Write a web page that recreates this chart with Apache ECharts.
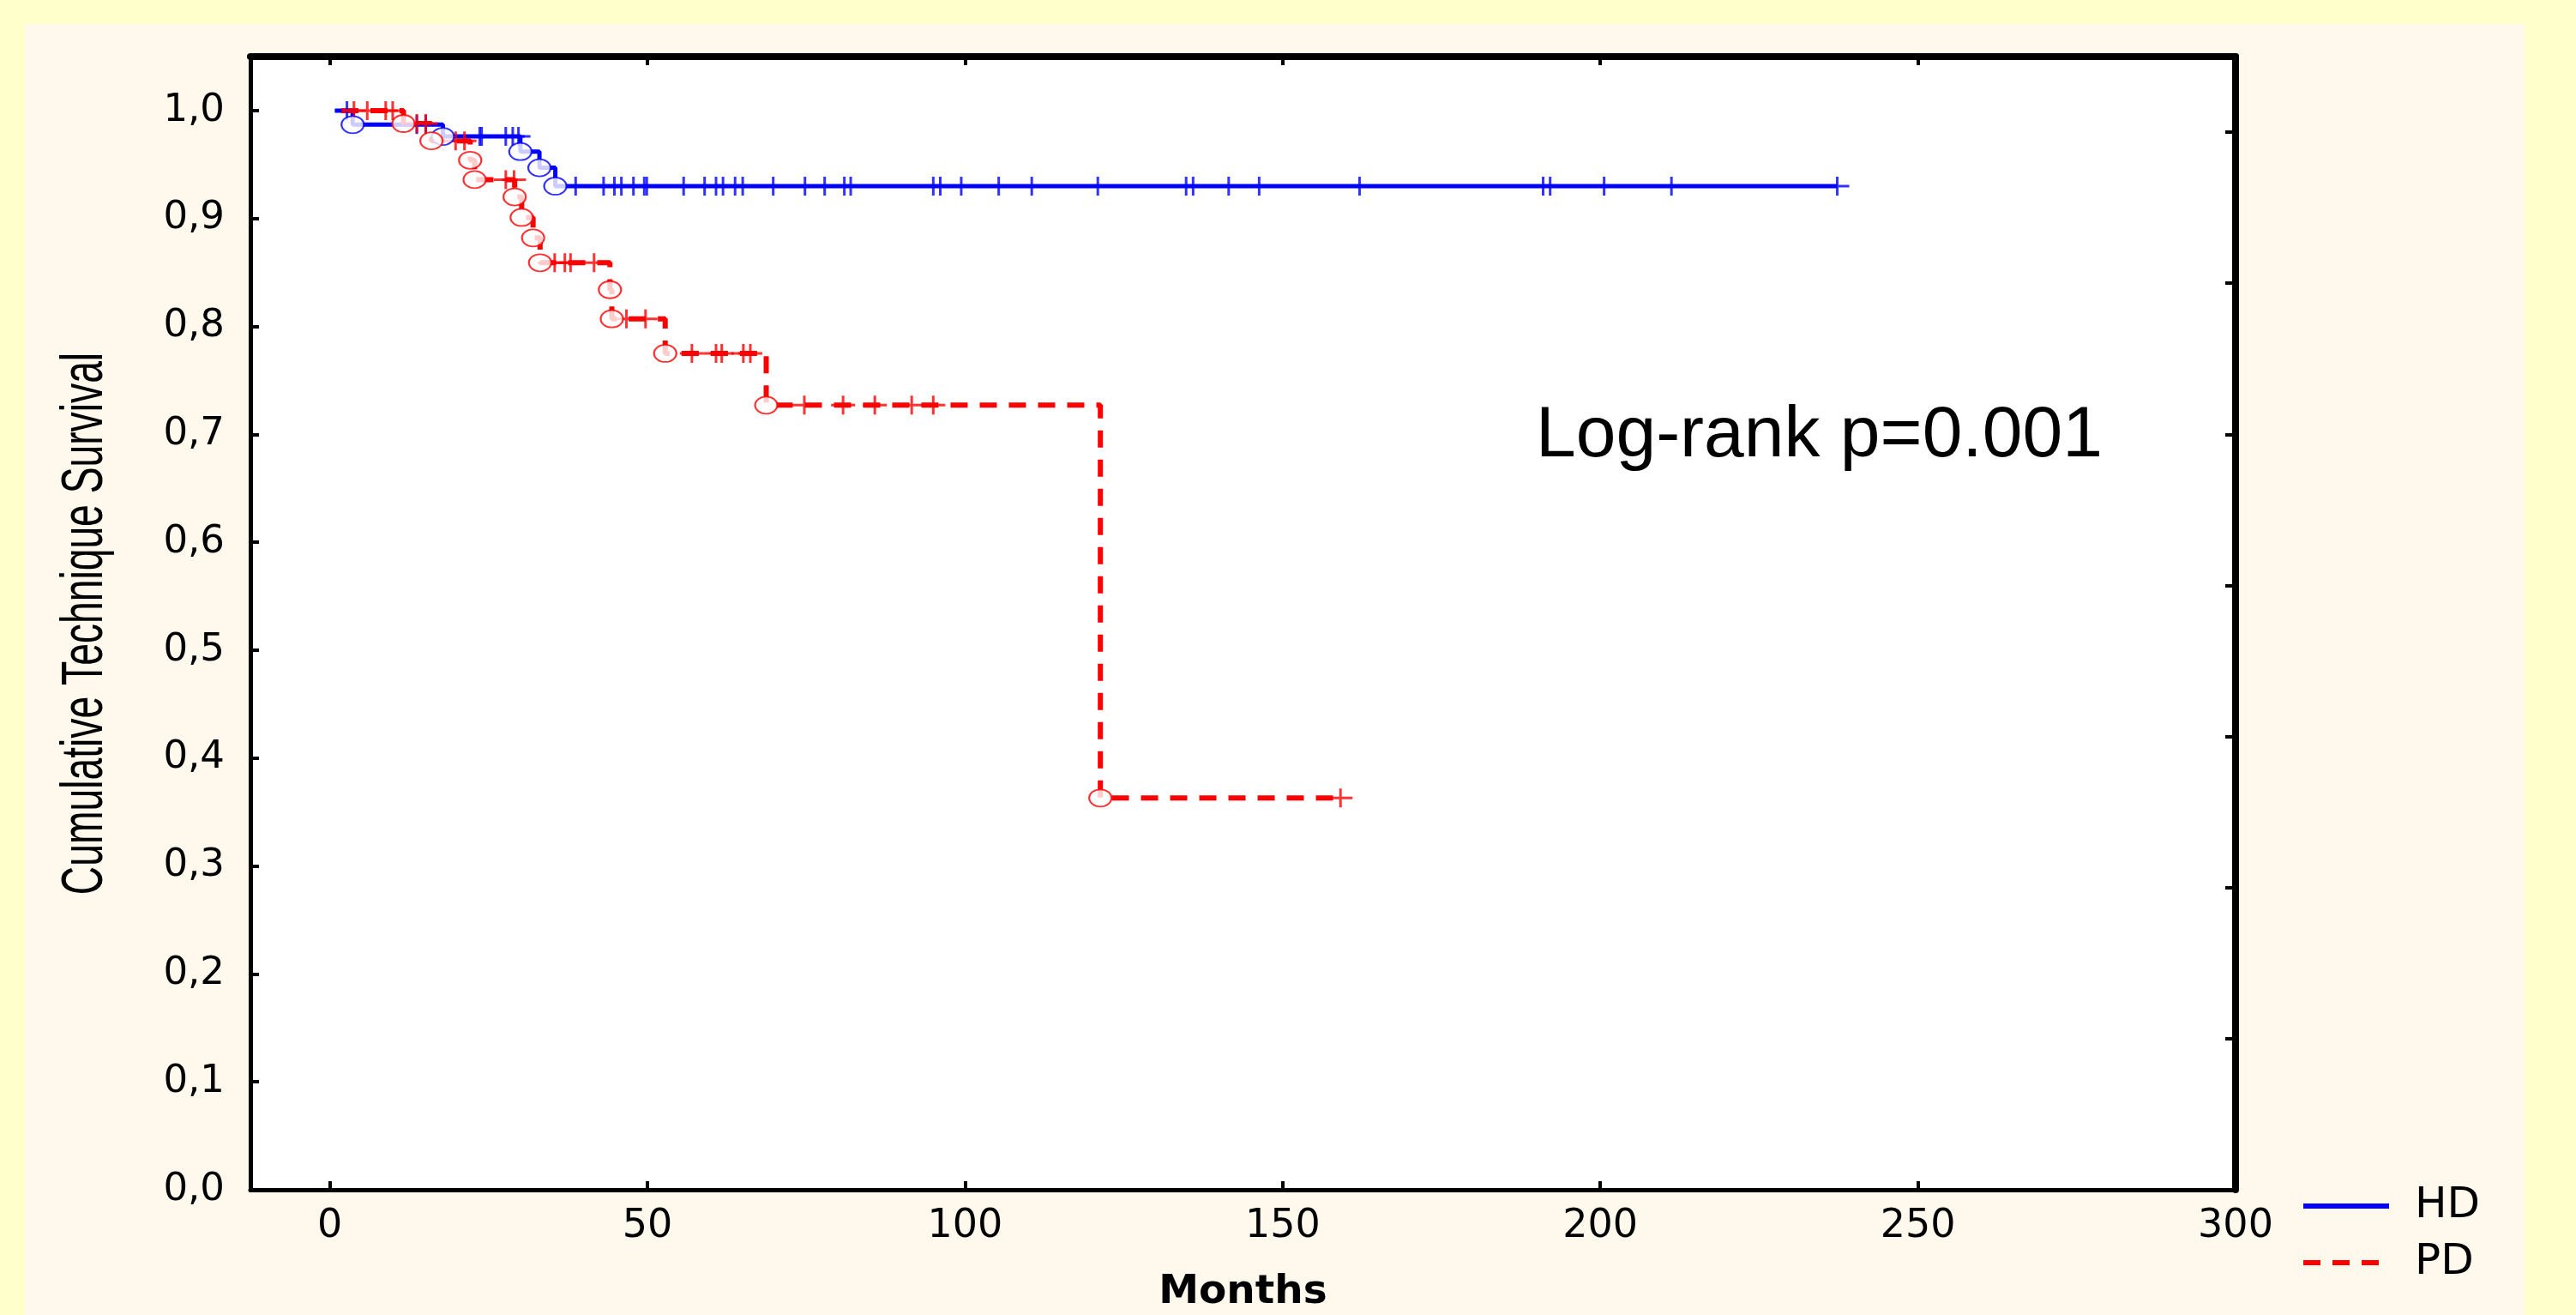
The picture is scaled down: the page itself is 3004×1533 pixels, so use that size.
<!DOCTYPE html>
<html><head><meta charset="utf-8">
<script src="https://cdn.jsdelivr.net/npm/echarts@6/dist/echarts.min.js"></script>
<style>
html,body{margin:0;padding:0;background:#FFFFCC;overflow:hidden;}
#panel{position:absolute;left:29px;top:28px;width:2915px;height:1505px;background:#FEF9EC;}
#chart{position:absolute;left:0;top:0;width:3004px;height:1533px;}
</style></head><body>
<div id="panel"></div><div id="chart"></div>
<script>
// ---- data ----
const xTicks = [0, 50, 100, 150, 200, 250, 300];
const yTicks = [0, 0.1, 0.2, 0.3, 0.4, 0.5, 0.6, 0.7, 0.8, 0.9, 1.0];
const rightTicks = [0, 0.14, 0.28, 0.42, 0.56, 0.70, 0.84, 0.98];
const seriesNames = ['HD', 'PD'];

// HD: step points (time in months, cumulative technique survival)
const hdTimes = [0.8, 3.6, 17.8, 30.0, 33.0, 35.5, 237.3];
const hdSurv  = [1.0, 0.987, 0.976, 0.962, 0.947, 0.930, 0.930];
const hdCensor = [2.7, 13.7, 15.1, 23.6, 23.9, 27.7, 28.8, 29.7, 38.7, 43.1, 44.8, 45.9, 47.8, 49.5, 49.9,
  55.7, 59.0, 60.8, 61.9, 63.8, 65.0, 69.8, 74.8, 77.9, 81.0, 82.0, 95.0, 96.1, 99.4, 105.3, 110.5,
  120.9, 134.8, 135.9, 141.5, 146.3, 162.1, 191.0, 192.1, 200.6, 211.2, 237.3];

// PD
const pdTimes = [1.8, 11.6, 16.0, 22.1, 22.8, 29.1, 30.2, 32.0, 33.1, 44.1, 44.4, 52.8, 68.7, 121.3, 159.1];
const pdSurv  = [1.0, 0.988, 0.972, 0.954, 0.936, 0.920, 0.901, 0.882, 0.859, 0.834, 0.807, 0.775, 0.727, 0.363, 0.363];
const pdCensor = [3.8, 5.9, 8.8, 9.9, 13.7, 15.1, 19.8, 21.2, 27.7, 29.0, 35.4, 37.0, 37.9, 41.6, 46.7, 49.7,
  57.0, 60.8, 61.7, 65.1, 66.2, 74.7, 80.8, 85.8, 91.6, 95.0, 159.1];

// ---- helpers ----
function survAt(times, surv, t) {
  let v = surv[0];
  for (let i = 0; i < times.length; i++) { if (times[i] <= t) v = surv[i]; }
  return v;
}
const stepData = (times, surv) => times.map((t, i) => [t, surv[i]]);
const eventData = (times, surv) => times.slice(1, -1).map((t, i) => [t, surv[i + 1]]);
const censorData = (c, times, surv) => c.map(t => [t, survAt(times, surv, t)]);

const BLUE = '#0000FF', RED = '#FF0000';
const plusPath = 'path://M0,9.5L12.5,9.5L12.5,0L15.5,0L15.5,9.5L28,9.5L28,12.5L15.5,12.5L15.5,22L12.5,22L12.5,12.5L0,12.5Z';
const tickFont = '"DejaVu Sans", sans-serif';

const chart = echarts.init(document.getElementById('chart'), null, {renderer: 'canvas'});
chart.setOption({
  animation: false,
  backgroundColor: 'transparent',
  grid: {left: 292, right: 397, top: 66, bottom: 146, show: true, backgroundColor: '#FFFFFF', borderWidth: 0, containLabel: false, outerBoundsMode: 'none'},
  xAxis: [
    {type: 'value', position: 'bottom', min: -12.5, max: 300,
     splitLine: {show: false},
     axisLine: {onZero: false, lineStyle: {color: '#000', width: 5}},
     axisTick: {inside: true, length: 10, lineStyle: {width: 4, color: '#000'}, customValues: xTicks},
     axisLabel: {customValues: xTicks, margin: 20, fontFamily: tickFont, fontSize: 46, color: '#000'},
     name: 'Months', nameLocation: 'middle', nameGap: 96,
     nameTextStyle: {fontFamily: tickFont, fontSize: 47, fontWeight: 'bold', color: '#000'}},
    {type: 'value', position: 'top', min: -12.5, max: 300,
     splitLine: {show: false},
     axisLine: {onZero: false, lineStyle: {color: '#000', width: 8}},
     axisTick: {inside: true, length: 10, lineStyle: {width: 4, color: '#000'}, customValues: xTicks},
     axisLabel: {show: false}}
  ],
  yAxis: [
    {type: 'value', position: 'left', min: 0, max: 1.05,
     splitLine: {show: false},
     axisLine: {onZero: false, lineStyle: {color: '#000', width: 5}},
     axisTick: {inside: true, length: 10, lineStyle: {width: 4, color: '#000'}, customValues: yTicks},
     axisLabel: {customValues: yTicks, margin: 30, fontFamily: tickFont, fontSize: 45, color: '#000',
       formatter: v => v.toFixed(1).replace('.', ',')}},
    {type: 'value', position: 'right', min: 0, max: 1.05,
     splitLine: {show: false},
     axisLine: {onZero: false, lineStyle: {color: '#000', width: 8}},
     axisTick: {inside: true, length: 12, lineStyle: {width: 4, color: '#000'}, customValues: rightTicks},
     axisLabel: {show: false}}
  ],
  legend: {
    orient: 'vertical', left: 2683, top: 1381, padding: 0, itemWidth: 100, itemHeight: 40, itemGap: 16,
    data: seriesNames,
    itemStyle: {color: 'rgba(0,0,0,0)', borderWidth: 0},
    lineStyle: {width: 6},
    textStyle: {fontFamily: tickFont, fontSize: 50, color: '#000', padding: [0, 0, 0, 25]}
  },
  graphic: [
    {type: 'text', x: 1791, y: 509,
     style: {text: 'Log-rank p=0.001', font: '84px "Liberation Sans", Arial, sans-serif', fill: '#000', align: 'left', verticalAlign: 'middle'}},
    {type: 'text', x: 100, y: 727, rotation: Math.PI / 2, scaleX: 0.68,
     style: {text: 'Cumulative Technique Survival', font: '68px "Liberation Sans", Arial, sans-serif', fill: '#000', align: 'center', verticalAlign: 'middle'}}
  ],
  series: [
    {name: 'HD', type: 'line', step: 'end', symbol: 'none', data: stepData(hdTimes, hdSurv),
     lineStyle: {color: BLUE, width: 5, type: 'solid'}, itemStyle: {color: BLUE}, z: 2},
    {name: 'PD', type: 'line', step: 'end', symbol: 'none', data: stepData(pdTimes, pdSurv),
     lineStyle: {color: RED, width: 6, type: [20, 14]}, itemStyle: {color: RED}, z: 2},
    {name: 'HD censored', type: 'scatter', symbol: plusPath, symbolSize: [28, 22],
     data: censorData(hdCensor, hdTimes, hdSurv), itemStyle: {color: BLUE}, z: 3},
    {name: 'PD censored', type: 'scatter', symbol: plusPath, symbolSize: [28, 22],
     data: censorData(pdCensor, pdTimes, pdSurv), itemStyle: {color: RED}, z: 3},
    {name: 'HD events', type: 'scatter', symbol: 'circle', symbolSize: [26, 20],
     data: eventData(hdTimes, hdSurv), itemStyle: {color: '#FFFFFF', borderColor: BLUE, borderWidth: 2}, z: 4},
    {name: 'PD events', type: 'scatter', symbol: 'circle', symbolSize: [26, 20],
     data: eventData(pdTimes, pdSurv), itemStyle: {color: '#FFFFFF', borderColor: RED, borderWidth: 2}, z: 4}
  ]
});
</script>
</body></html>
